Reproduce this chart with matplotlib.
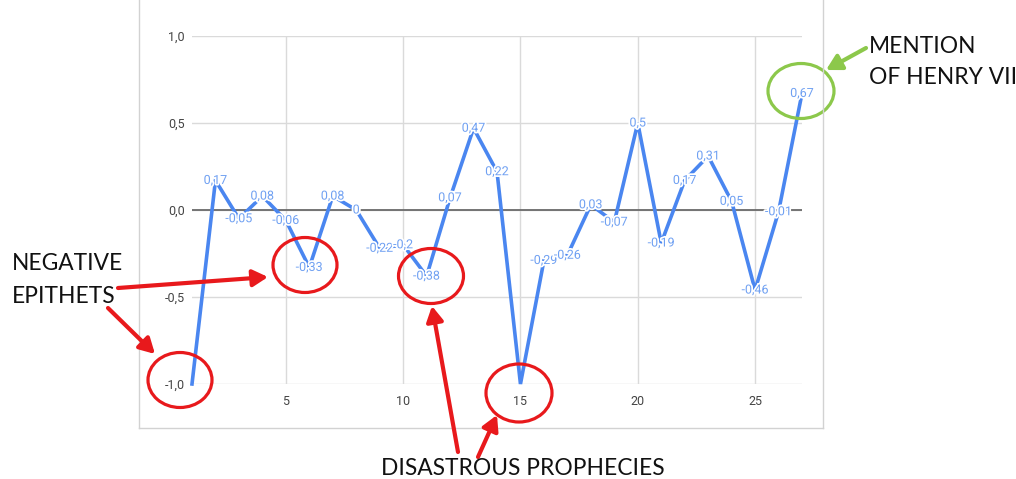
import matplotlib
matplotlib.use('Agg')
import matplotlib.pyplot as plt
import matplotlib.patheffects as pe
from matplotlib.patches import Ellipse
from matplotlib.lines import Line2D

# data
x_vals = list(range(1, 28))
scores = [-1.0, 0.17, -0.05, 0.08, -0.06, -0.33, 0.08, 0, -0.22, -0.2,
          -0.38, 0.07, 0.47, 0.22, -1.0, -0.29, -0.26, 0.03, -0.07, 0.5,
          -0.19, 0.17, 0.31, 0.05, -0.46, -0.01, 0.67]
x_ticks = [5, 10, 15, 20, 25]
y_ticks = [-1.0, -0.5, 0.0, 0.5, 1.0]

W, H = 1016, 479
fig = plt.figure(figsize=(W / 100, H / 100), dpi=100)
fig.patch.set_facecolor('white')

# chart area (pixels -> figure fraction)
ax = fig.add_axes([192 / W, 1 - 384 / H, 610 / W, 348 / H])
ax.set_xlim(1, 27)
ax.set_ylim(-1, 1)
for s in ax.spines.values():
    s.set_visible(False)

ax.set_xticks(x_ticks)
ax.set_yticks(y_ticks)
ax.set_yticklabels([f"{t:.1f}".replace('.', ',') for t in y_ticks])
ax.tick_params(length=0, labelsize=9, labelcolor='#444444')
ax.tick_params(axis='y', pad=5)
ax.tick_params(axis='x', pad=8)
for lab in ax.get_xticklabels() + ax.get_yticklabels():
    lab.set_fontfamily('Roboto')
ax.grid(True, color='#dadada', lw=1)
ax.axhline(0, color='#6b6b6b', lw=1.3, zorder=2)

ax.plot(x_vals, scores, color='#4a86f0', lw=2.6, zorder=3, clip_on=False,
        solid_joinstyle='miter')

for xv, v in zip(x_vals, scores):
    if v <= -1.0:
        continue  # labels at the axis floor are hidden in the original
    ax.text(xv, v, f"{v:g}".replace('.', ','), ha='center', va='center',
            fontsize=9, family='Roboto', color='#6fa0f2', zorder=4,
            path_effects=[pe.withStroke(linewidth=2.5, foreground='white')])

# overlay in pixel coordinates for the box and annotations
ov = fig.add_axes([0, 0, 1, 1], zorder=10)
ov.set_xlim(0, W)
ov.set_ylim(H, 0)
ov.axis('off')
ov.patch.set_alpha(0)

box = '#d2d2d2'
ov.add_line(Line2D([139, 139], [0, 428], color=box, lw=1))
ov.add_line(Line2D([823, 823], [0, 428], color=box, lw=1))
ov.add_line(Line2D([139, 823], [428, 428], color=box, lw=1))

red = '#e8191c'
green = '#8cc84b'
for cx, cy, w, h in [(305, 265, 64, 55), (180, 380, 64, 55),
                     (431, 276, 65, 55), (519, 393, 66, 58)]:
    ov.add_patch(Ellipse((cx, cy), w, h, fill=False, ec=red, lw=2.3))
ov.add_patch(Ellipse((801, 91), 66, 55, fill=False, ec=green, lw=2.3))

arrow = dict(arrowstyle='-|>,head_length=0.9,head_width=0.5', lw=3,
             shrinkA=0, shrinkB=0)
for start, tip in [((118, 288), (268, 277)), ((108, 308), (155, 354)),
                   ((458, 452), (432, 306)), ((478, 457), (497, 415))]:
    ov.annotate('', xy=tip, xytext=start, arrowprops=dict(arrow, color=red))
ov.annotate('', xy=(826, 70), xytext=(866, 48), arrowprops=dict(arrow, color=green))

txt = dict(fontsize=16.4, family='Lato', color='#111111', va='baseline')
ov.text(12, 270, 'NEGATIVE', **txt)
ov.text(12, 303, 'EPITHETS', **txt)
ov.text(381, 475, 'DISASTROUS PROPHECIES', **txt)
ov.text(869, 53, 'MENTION', **txt)
ov.text(869, 84, 'OF HENRY VII', **txt)

fig.savefig('out.png', dpi=100)
